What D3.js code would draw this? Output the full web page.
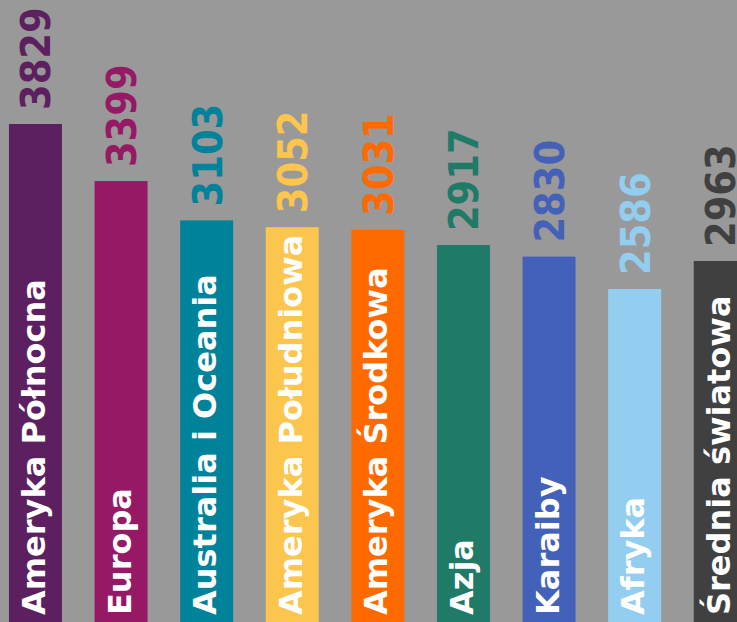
<!DOCTYPE html>
<html>
<head>
<meta charset="utf-8">
<script src="https://cdn.jsdelivr.net/npm/d3@7"></script>
<style>
  html, body { margin: 0; padding: 0; background: #999999; }
  svg { display: block; }
</style>
</head>
<body>
<div id="chart"></div>
<script>
const categories = ["Ameryka Północna", "Europa", "Australia i Oceania", "Ameryka Południowa", "Ameryka Środkowa", "Azja", "Karaiby", "Afryka", "Średnia światowa"];
const barValues = [3829, 3399, 3103, 3052, 3031, 2917, 2830, 2586, 2797];
const labelValues = ["3829", "3399", "3103", "3052", "3031", "2917", "2830", "2586", "2963"];
const colors = ["#5c1f5f", "#961966", "#00829b", "#fcc54e", "#ff6a00", "#1f7a67", "#4361b8", "#93cdf0", "#404040"];

const W = 737, H = 622;
const svg = d3.select("#chart").append("svg").attr("width", W).attr("height", H);
svg.append("rect").attr("width", W).attr("height", H).attr("fill", "#999999");

const x = d3.scaleBand().domain(categories).range([-7.3, 763]).paddingInner(0.381).paddingOuter(0.19);
const y = d3.scaleLinear().domain([0, 3829]).range([632.3, 124]);

const data = categories.map((c, i) => ({ c, v: barValues[i], l: labelValues[i], col: colors[i] }));

const g = svg.selectAll("g.bar").data(data).join("g").attr("class", "bar");

g.append("rect")
  .attr("x", d => x(d.c))
  .attr("y", d => y(d.v))
  .attr("width", x.bandwidth())
  .attr("height", d => H + 20 - y(d.v))
  .attr("fill", d => d.col);

g.append("text")
  .attr("transform", d => `translate(${x(d.c) + x.bandwidth() / 2 + 15},${y(d.v) - 14}) rotate(-90)`)
  .attr("fill", d => d.col)
  .style("font-family", "'DejaVu Sans Condensed', 'DejaVu Sans'")
  .style("font-stretch", "condensed")
  .style("font-weight", "bold")
  .style("font-size", "41px")
  .text(d => d.l);

g.append("text")
  .attr("transform", d => `translate(${x(d.c) + x.bandwidth() / 2 + 9.5},${615}) rotate(-90)`)
  .attr("fill", "#ffffff")
  .style("font-family", "'DejaVu Sans'")
  .style("font-weight", "bold")
  .style("font-size", "32px")
  .text(d => d.c);
</script>
</body>
</html>
